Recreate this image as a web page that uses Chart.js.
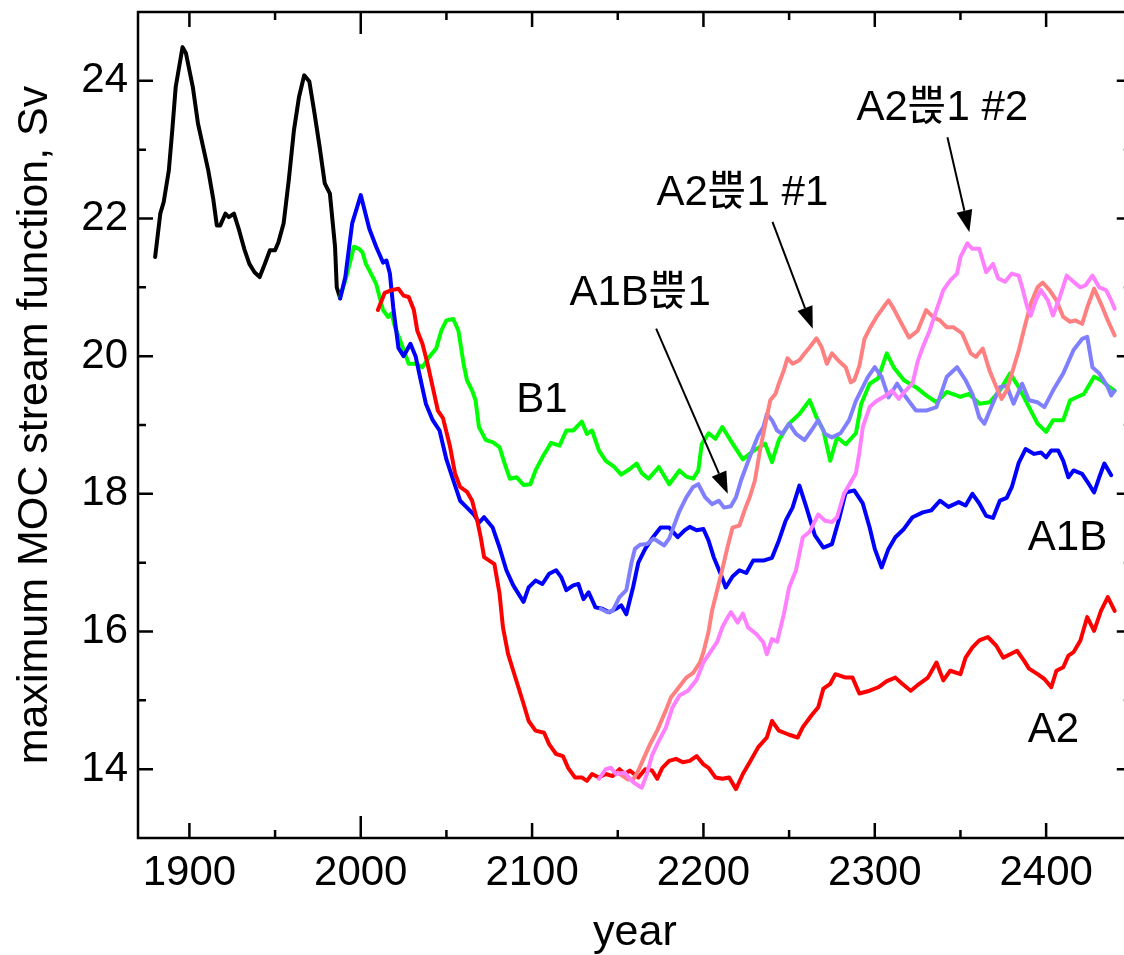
<!DOCTYPE html>
<html>
<head>
<meta charset="utf-8">
<script src="https://cdn.jsdelivr.net/npm/chart.js@4/dist/chart.umd.min.js"></script>
<style>
  html, body { margin: 0; padding: 0; background: #fff; overflow: hidden; }
</style>
</head>
<body>
<canvas id="moc" width="1140" height="955"></canvas>
<script>
// tick values
var xTicks = [1900, 2000, 2100, 2200, 2300, 2400];
var xMinorTicks = [1950, 2050, 2150, 2250, 2350];
var yTicks = [14, 16, 18, 20, 22, 24];
var yMinorTicks = [15, 17, 19, 21, 23];

// [year, Sv]
var historical = [[1880,21.44],[1883,22.07],[1885,22.24],[1888,22.7],[1890,23.28],[1892,23.91],[1896,24.49],[1898,24.4],[1902,23.91],[1905,23.38],[1908,23.04],[1911,22.7],[1914,22.27],[1916,21.9],[1918,21.9],[1921,22.07],[1923,22.02],[1926,22.07],[1929,21.83],[1932,21.56],[1935,21.34],[1938,21.22],[1941,21.15],[1944,21.34],[1947,21.54],[1950,21.54],[1952,21.66],[1955,21.93],[1958,22.56],[1961,23.28],[1964,23.77],[1967,24.08],[1970,23.99],[1973,23.53],[1976,23.04],[1979,22.51],[1982,22.36],[1985,21.59],[1986,21.0],[1988,20.84]];

var b1 = [[1988,20.86],[1991,21.1],[1994,21.39],[1996,21.59],[1999,21.56],[2001,21.51],[2003,21.34],[2006,21.2],[2009,21.05],[2011,20.86],[2013,20.67],[2016,20.57],[2018,20.62],[2020,20.42],[2023,20.23],[2028,19.89],[2032,19.89],[2036,19.84],[2040,19.99],[2044,20.11],[2047,20.37],[2050,20.52],[2054,20.54],[2057,20.37],[2060,19.89],[2062,19.65],[2065,19.5],[2067,19.36],[2069,18.97],[2073,18.78],[2077,18.75],[2081,18.68],[2084,18.44],[2087,18.22],[2091,18.24],[2095,18.13],[2099,18.14],[2102,18.34],[2106,18.53],[2111,18.74],[2116,18.7],[2120,18.92],[2124,18.92],[2129,19.05],[2132,18.87],[2135,18.92],[2139,18.63],[2143,18.48],[2148,18.39],[2152,18.28],[2157,18.36],[2161,18.44],[2164,18.3],[2168,18.22],[2174,18.39],[2180,18.14],[2186,18.34],[2190,18.25],[2194,18.22],[2197,18.34],[2199,18.72],[2203,18.88],[2207,18.8],[2211,18.97],[2217,18.73],[2223,18.5],[2229,18.62],[2236,18.73],[2240,18.46],[2244,18.78],[2250,19.02],[2256,19.16],[2262,19.36],[2266,19.11],[2270,18.92],[2274,18.48],[2278,18.82],[2283,18.72],[2289,18.88],[2292,19.3],[2297,19.6],[2302,19.68],[2307,20.04],[2311,19.84],[2317,19.65],[2324,19.55],[2330,19.43],[2336,19.33],[2342,19.48],[2350,19.41],[2355,19.45],[2361,19.31],[2367,19.33],[2373,19.5],[2379,19.75],[2384,19.55],[2390,19.26],[2395,19.02],[2400,18.9],[2404,19.07],[2410,19.07],[2414,19.36],[2422,19.45],[2428,19.7],[2432,19.65],[2437,19.55],[2440,19.5]];

var a1b = [[1988,20.84],[1991,21.15],[1995,21.93],[2000,22.34],[2005,21.85],[2009,21.59],[2013,21.36],[2015,21.39],[2017,21.2],[2019,20.7],[2022,20.12],[2025,20.0],[2029,20.18],[2032,20.0],[2035,19.65],[2038,19.31],[2042,19.07],[2046,18.92],[2050,18.5],[2054,18.2],[2058,17.9],[2062,17.8],[2066,17.7],[2069,17.58],[2072,17.66],[2077,17.51],[2081,17.22],[2085,16.89],[2089,16.67],[2092,16.55],[2095,16.43],[2098,16.64],[2102,16.74],[2106,16.69],[2110,16.84],[2114,16.89],[2117,16.79],[2120,16.6],[2124,16.67],[2127,16.69],[2130,16.47],[2133,16.57],[2137,16.35],[2141,16.33],[2145,16.28],[2149,16.33],[2152,16.38],[2155,16.25],[2159,16.65],[2162,17.0],[2166,17.2],[2170,17.35],[2175,17.51],[2180,17.51],[2185,17.37],[2189,17.47],[2192,17.52],[2196,17.47],[2200,17.49],[2203,17.32],[2206,17.08],[2210,16.84],[2213,16.64],[2217,16.8],[2221,16.89],[2225,16.85],[2229,17.03],[2235,17.03],[2240,17.07],[2244,17.32],[2248,17.61],[2252,17.8],[2256,18.12],[2260,17.81],[2265,17.4],[2270,17.22],[2275,17.27],[2279,17.62],[2283,18.02],[2288,18.05],[2293,17.86],[2297,17.51],[2300,17.2],[2304,16.93],[2308,17.2],[2312,17.37],[2317,17.49],[2322,17.66],[2328,17.73],[2333,17.76],[2338,17.9],[2343,17.81],[2349,17.88],[2353,17.83],[2357,18.0],[2361,17.86],[2365,17.68],[2369,17.65],[2373,17.9],[2377,17.94],[2380,18.1],[2384,18.45],[2388,18.65],[2393,18.58],[2397,18.6],[2400,18.53],[2403,18.63],[2407,18.63],[2410,18.48],[2413,18.24],[2416,18.34],[2421,18.29],[2425,18.14],[2428,18.02],[2431,18.24],[2434,18.44],[2438,18.27]];

var a2 = [[2010,20.67],[2014,20.92],[2018,20.96],[2022,20.98],[2025,20.88],[2028,20.86],[2031,20.67],[2033,20.37],[2036,20.18],[2039,19.89],[2042,19.55],[2045,19.21],[2048,19.1],[2052,18.7],[2055,18.3],[2058,18.1],[2062,18.03],[2065,17.9],[2068,17.61],[2070,17.37],[2072,17.08],[2075,17.03],[2078,16.98],[2081,16.55],[2083,16.06],[2086,15.67],[2089,15.43],[2092,15.19],[2095,14.95],[2098,14.7],[2102,14.56],[2107,14.53],[2110,14.36],[2114,14.22],[2118,14.19],[2121,14.02],[2125,13.88],[2129,13.88],[2132,13.83],[2135,13.93],[2139,13.88],[2143,13.93],[2147,13.9],[2151,14.0],[2154,13.93],[2157,13.98],[2162,13.88],[2166,14.0],[2170,13.98],[2173,13.86],[2176,14.02],[2180,14.12],[2184,14.15],[2188,14.1],[2192,14.12],[2196,14.19],[2200,14.07],[2203,14.02],[2207,13.88],[2211,13.86],[2215,13.88],[2219,13.71],[2223,13.93],[2227,14.1],[2232,14.32],[2237,14.46],[2240,14.7],[2244,14.56],[2250,14.5],[2255,14.46],[2258,14.61],[2263,14.78],[2267,14.9],[2270,15.17],[2274,15.24],[2277,15.38],[2283,15.33],[2287,15.33],[2291,15.1],[2297,15.14],[2302,15.19],[2307,15.28],[2312,15.33],[2316,15.24],[2321,15.14],[2326,15.24],[2331,15.33],[2336,15.55],[2340,15.29],[2344,15.43],[2350,15.38],[2353,15.62],[2357,15.77],[2361,15.87],[2366,15.92],[2371,15.79],[2375,15.62],[2379,15.67],[2383,15.72],[2387,15.58],[2390,15.46],[2395,15.38],[2399,15.31],[2403,15.19],[2406,15.43],[2410,15.48],[2413,15.65],[2416,15.7],[2420,15.87],[2424,16.21],[2428,16.01],[2432,16.3],[2436,16.5],[2440,16.3]];

var a1bStab = [[2140,16.33],[2144,16.28],[2147,16.3],[2151,16.5],[2155,16.6],[2158,17.0],[2160,17.2],[2163,17.26],[2167,17.27],[2171,17.35],[2174,17.3],[2177,17.25],[2180,17.35],[2183,17.55],[2186,17.75],[2190,17.95],[2194,18.1],[2197,18.14],[2201,17.95],[2205,17.85],[2209,17.9],[2212,17.8],[2216,17.82],[2219,17.95],[2222,18.2],[2225,18.4],[2228,18.6],[2232,18.85],[2235,18.97],[2237,19.16],[2240,19.07],[2243,18.92],[2246,18.87],[2250,19.02],[2254,18.87],[2259,18.78],[2263,18.92],[2267,19.07],[2271,18.87],[2275,18.82],[2280,18.88],[2285,19.07],[2289,19.35],[2293,19.55],[2296,19.7],[2300,19.84],[2304,19.7],[2308,19.4],[2313,19.6],[2318,19.41],[2324,19.21],[2330,19.21],[2336,19.26],[2342,19.7],[2348,19.84],[2353,19.65],[2357,19.45],[2361,19.11],[2364,19.02],[2368,19.26],[2373,19.55],[2377,19.57],[2381,19.31],[2386,19.6],[2390,19.36],[2395,19.33],[2399,19.26],[2404,19.5],[2410,19.75],[2416,20.09],[2421,20.25],[2424,20.28],[2427,19.84],[2431,19.75],[2436,19.55],[2438,19.43],[2440,19.5]];

var a2Stab1 = [[2150,13.95],[2156,13.85],[2159,13.85],[2162,13.98],[2165,14.15],[2169,14.37],[2173,14.56],[2178,14.85],[2181,15.04],[2186,15.2],[2190,15.33],[2194,15.4],[2198,15.55],[2200,15.7],[2203,16.0],[2205,16.3],[2208,16.6],[2211,16.9],[2214,17.22],[2217,17.51],[2221,17.54],[2224,17.76],[2227,17.95],[2230,18.19],[2233,18.63],[2236,19.0],[2239,19.36],[2242,19.45],[2244,19.6],[2247,19.8],[2249,19.97],[2252,19.89],[2256,19.94],[2259,20.04],[2262,20.13],[2266,20.26],[2269,20.13],[2272,19.89],[2275,20.04],[2279,19.93],[2283,19.84],[2286,19.62],[2288,19.65],[2291,19.86],[2294,20.25],[2297,20.4],[2301,20.57],[2305,20.71],[2308,20.81],[2311,20.69],[2315,20.5],[2320,20.27],[2325,20.37],[2330,20.67],[2334,20.57],[2338,20.52],[2342,20.42],[2346,20.42],[2351,20.33],[2356,20.04],[2359,19.99],[2363,20.11],[2367,19.79],[2371,19.55],[2374,19.38],[2377,19.5],[2380,19.75],[2384,20.08],[2387,20.38],[2391,20.76],[2395,21.0],[2398,21.07],[2402,20.96],[2406,20.81],[2410,20.57],[2414,20.5],[2417,20.52],[2421,20.47],[2424,20.71],[2428,20.98],[2432,20.76],[2436,20.52],[2440,20.3]];

var a2Stab2 = [[2139,13.86],[2143,14.0],[2146,14.02],[2149,13.93],[2154,13.95],[2159,13.81],[2164,13.73],[2167,13.93],[2170,14.2],[2174,14.41],[2178,14.6],[2182,14.9],[2186,15.07],[2191,15.14],[2196,15.3],[2200,15.55],[2204,15.7],[2208,15.85],[2211,16.06],[2214,16.2],[2216,16.28],[2220,16.13],[2223,16.26],[2226,16.06],[2231,15.96],[2235,15.84],[2237,15.67],[2240,15.89],[2243,15.85],[2247,16.26],[2250,16.64],[2254,16.89],[2258,17.37],[2262,17.45],[2267,17.7],[2271,17.61],[2275,17.59],[2278,17.66],[2282,18.0],[2286,18.17],[2289,18.3],[2291,18.6],[2293,18.97],[2297,19.26],[2301,19.35],[2306,19.42],[2310,19.5],[2314,19.38],[2318,19.5],[2322,19.6],[2325,19.92],[2328,20.13],[2332,20.37],[2336,20.67],[2340,20.96],[2344,21.1],[2348,21.2],[2350,21.44],[2354,21.64],[2357,21.56],[2361,21.56],[2363,21.39],[2365,21.22],[2369,21.34],[2372,21.13],[2376,21.08],[2380,21.2],[2384,21.17],[2386,21.0],[2389,20.71],[2391,20.59],[2394,20.81],[2397,20.96],[2401,20.81],[2404,20.59],[2408,20.86],[2412,21.17],[2416,21.08],[2420,21.0],[2423,21.03],[2427,21.17],[2431,21.0],[2435,20.96],[2438,20.81],[2440,20.69]];

// text labels and arrows, in data coordinates
var notes = [
  { text: 'B1', x: 2090.8, y: 19.19 },
  { text: 'A1B', x: 2389.3, y: 17.18 },
  { text: 'A2', x: 2389.3, y: 14.39 },
  { text: 'A1B쁝1', x: 2121.8, y: 20.74 },
  { text: 'A2쁝1 #1', x: 2172.6, y: 22.19 },
  { text: 'A2쁝1 #2', x: 2289.3, y: 23.43 }
];
var arrows = [
  { from: [2172.4, 20.4], to: [2214.2, 18.0] },
  { from: [2240.3, 21.95], to: [2263.8, 20.4] },
  { from: [2342.4, 23.18], to: [2355.2, 21.8] }
];

var FONT = '"Liberation Sans", Arial, "Noto Sans CJK KR", sans-serif';
Chart.defaults.font.family = FONT;
Chart.defaults.color = '#000';

function toXY(pairs) {
  return pairs.map(function (p) { return { x: p[0], y: p[1] }; });
}

function serie(pairs, color) {
  return {
    data: toXY(pairs),
    borderColor: color,
    borderWidth: 4,
    pointRadius: 0,
    tension: 0,
    fill: false,
    borderJoinStyle: 'round',
    borderCapStyle: 'round'
  };
}

// frame with inward ticks, annotations
var frame = {
  id: 'frame',
  afterDraw: function (chart) {
    var ctx = chart.ctx, a = chart.chartArea;
    var xs = chart.scales.x, ys = chart.scales.y;
    ctx.save();
    ctx.strokeStyle = '#000';
    ctx.lineWidth = 2.5;
    ctx.strokeRect(a.left, a.top, a.right - a.left, a.bottom - a.top);

    ctx.beginPath();
    function xTick(v, len) {
      var px = xs.getPixelForValue(v);
      ctx.moveTo(px, a.bottom); ctx.lineTo(px, a.bottom - len);
      ctx.moveTo(px, a.top); ctx.lineTo(px, a.top + len);
    }
    function yTick(v, len) {
      var py = ys.getPixelForValue(v);
      ctx.moveTo(a.left, py); ctx.lineTo(a.left + len, py);
      ctx.moveTo(a.right, py); ctx.lineTo(a.right - len, py);
    }
    xTicks.forEach(function (v) { xTick(v, v === 2000 ? 22 : 15); });
    xMinorTicks.forEach(function (v) { xTick(v, 8); });
    yTicks.forEach(function (v) { yTick(v, 15); });
    yMinorTicks.forEach(function (v) { yTick(v, 8); });
    ctx.stroke();

    // arrows
    ctx.lineWidth = 2;
    ctx.fillStyle = '#000';
    arrows.forEach(function (ar) {
      var x1 = xs.getPixelForValue(ar.from[0]), y1 = ys.getPixelForValue(ar.from[1]);
      var x2 = xs.getPixelForValue(ar.to[0]), y2 = ys.getPixelForValue(ar.to[1]);
      var ang = Math.atan2(y2 - y1, x2 - x1), hl = 22, hw = 8;
      var bx = x2 - hl * Math.cos(ang), by = y2 - hl * Math.sin(ang);
      ctx.beginPath();
      ctx.moveTo(x1, y1); ctx.lineTo(bx, by);
      ctx.stroke();
      ctx.beginPath();
      ctx.moveTo(x2, y2);
      ctx.lineTo(bx + hw * Math.sin(ang), by - hw * Math.cos(ang));
      ctx.lineTo(bx - hw * Math.sin(ang), by + hw * Math.cos(ang));
      ctx.closePath();
      ctx.fill();
    });

    ctx.font = '42px ' + FONT;
    ctx.textAlign = 'left';
    ctx.textBaseline = 'alphabetic';
    notes.forEach(function (n) {
      ctx.fillText(n.text, xs.getPixelForValue(n.x), ys.getPixelForValue(n.y));
    });
    ctx.restore();
  }
};

function plain(v) { return String(v); }

var ctx = document.getElementById('moc').getContext('2d');
var chart = new Chart(ctx, {
  type: 'line',
  data: {
    datasets: [
      serie(a2Stab2, '#ff80ff'),
      serie(a2Stab1, '#ff8080'),
      serie(a1bStab, '#8080ff'),
      serie(a2, '#ff0000'),
      serie(a1b, '#0000ff'),
      serie(b1, '#00ff00'),
      serie(historical, '#000000')
    ]
  },
  options: {
    responsive: false,
    animation: false,
    devicePixelRatio: 1,
    layout: { padding: { top: 12, right: 8.2, left: 0, bottom: 0 } },
    plugins: { legend: { display: false }, tooltip: { enabled: false } },
    scales: {
      x: {
        type: 'linear',
        min: 1870,
        max: 2450,
        grid: { display: false, drawTicks: false },
        border: { display: false },
        afterBuildTicks: function (s) { s.ticks = xTicks.map(function (v) { return { value: v }; }); },
        afterFit: function (s) { s.height = 117; s.paddingLeft = 0; s.paddingRight = 0; },
        ticks: { font: { size: 42 }, padding: 10, maxRotation: 0, autoSkip: false, callback: plain },
        title: { display: true, text: 'year', font: { size: 43, lineHeight: 1 }, padding: 0 }
      },
      y: {
        type: 'linear',
        min: 13,
        max: 25,
        grid: { display: false, drawTicks: false },
        border: { display: false },
        afterBuildTicks: function (s) { s.ticks = yTicks.map(function (v) { return { value: v }; }); },
        afterFit: function (s) { s.width = 138; s.paddingTop = 0; s.paddingBottom = 0; },
        ticks: { font: { size: 42 }, padding: 10, autoSkip: false, callback: plain },
        title: { display: true, text: 'maximum MOC stream function, Sv', font: { size: 43, lineHeight: 1 }, padding: { top: 13.5, bottom: 0 } }
      }
    }
  },
  plugins: [frame]
});
</script>
</body>
</html>
